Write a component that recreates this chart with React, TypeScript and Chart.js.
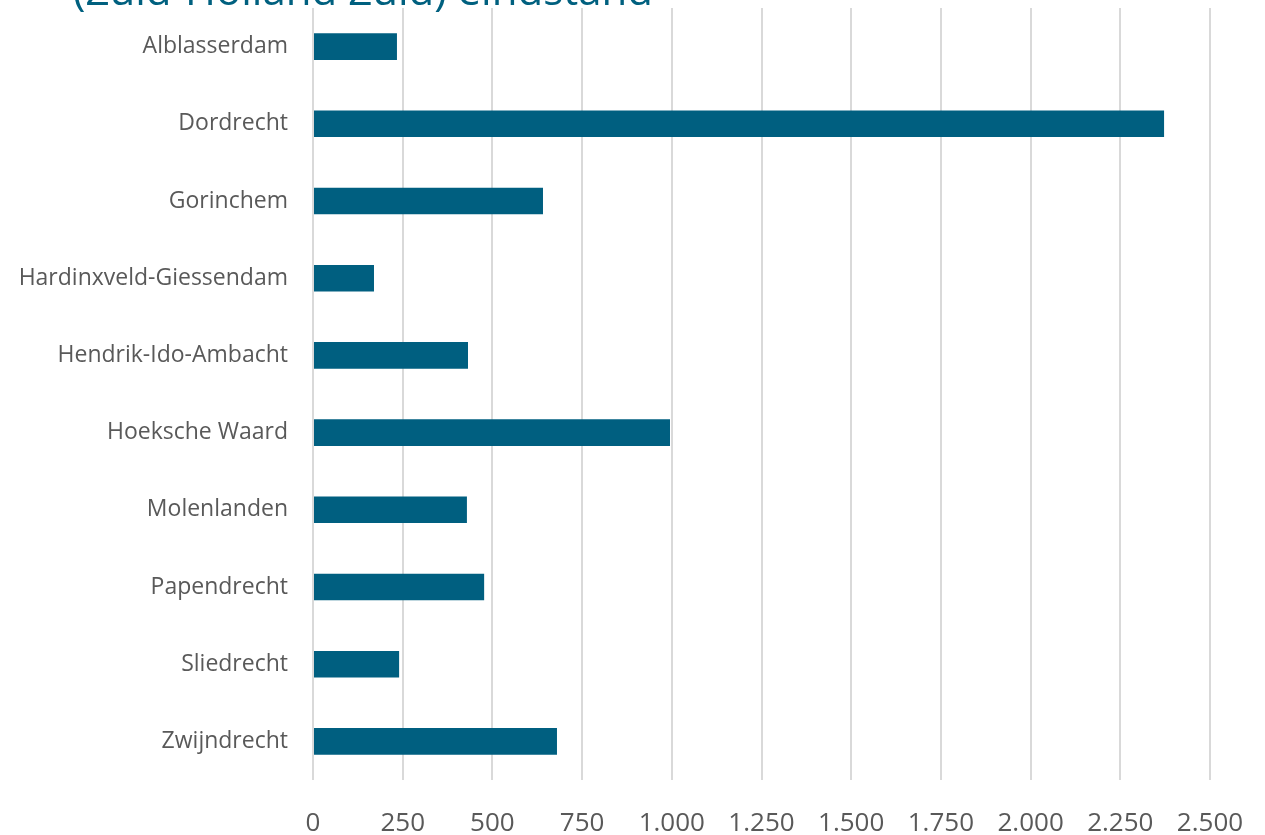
import React, { useEffect, useRef } from "react";
import { Chart, registerables } from "chart.js";

Chart.register(...registerables);

const titleText = "(Zuid-Holland Zuid) eindstand";
const categories = [
  "Alblasserdam",
  "Dordrecht",
  "Gorinchem",
  "Hardinxveld-Giessendam",
  "Hendrik-Ido-Ambacht",
  "Hoeksche Waard",
  "Molenlanden",
  "Papendrecht",
  "Sliedrecht",
  "Zwijndrecht",
];
const values = [234, 2372, 641, 170, 432, 995, 429, 477, 240, 680];
const xMin = 0;
const xMax = 2500;
const xStep = 250;

const fmt = (v: number) => String(Math.round(v)).replace(/\B(?=(\d{3})+(?!\d))/g, ".");

const titlePlugin = {
  id: "cutTitle",
  afterDraw(chart: any) {
    const ctx = chart.ctx;
    ctx.save();
    ctx.font = "42px 'Open Sans'";
    ctx.fillStyle = "#00607f";
    ctx.textBaseline = "alphabetic";
    ctx.textAlign = "left";
    ctx.fillText(titleText, 73, 5);
    ctx.restore();
  },
};

export default function App() {
  const ref = useRef<HTMLCanvasElement | null>(null);
  useEffect(() => {
    if (!ref.current) return;
    const chart = new Chart(ref.current, {
      type: "bar",
      data: {
        labels: categories,
        datasets: [
          {
            data: values,
            backgroundColor: "#005f80",
            borderWidth: 0,
            categoryPercentage: 1,
            barPercentage: 0.345,
          },
        ],
      },
      plugins: [titlePlugin],
      options: {
        indexAxis: "y",
        animation: false,
        responsive: true,
        maintainAspectRatio: false,
        layout: { padding: { top: 8, right: 55, left: 0, bottom: 0 } },
        plugins: {
          legend: { display: false },
          tooltip: { enabled: false },
          title: { display: false },
        },
        scales: {
          x: {
            min: xMin,
            max: xMax,
            ticks: {
              stepSize: xStep,
              color: "#595959",
              font: { family: "'Open Sans'", size: 26 },
              padding: 28,
              callback: (v: any) => fmt(Number(v)),
              maxRotation: 0,
              autoSkip: false,
            },
            grid: { color: "#d9d9d9", lineWidth: 2, drawTicks: false },
            border: { display: false },
            afterFit: (s: any) => {
              s.height = 55;
              s.paddingLeft = 0;
              s.paddingRight = 0;
            },
          },
          y: {
            ticks: {
              color: "#595959",
              font: { family: "'Open Sans'", size: 23 },
              padding: 25,
            },
            grid: { display: false, drawTicks: false },
            border: { display: false },
            afterFit: (s: any) => {
              s.width = 313;
              s.paddingTop = 0;
              s.paddingBottom = 0;
            },
          },
        },
      },
    });
    return () => chart.destroy();
  }, []);
  return (
    <div style={{ position: "fixed", left: 0, top: 0, width: 1265, height: 835, background: "#fff" }}>
      <canvas ref={ref} />
    </div>
  );
}
